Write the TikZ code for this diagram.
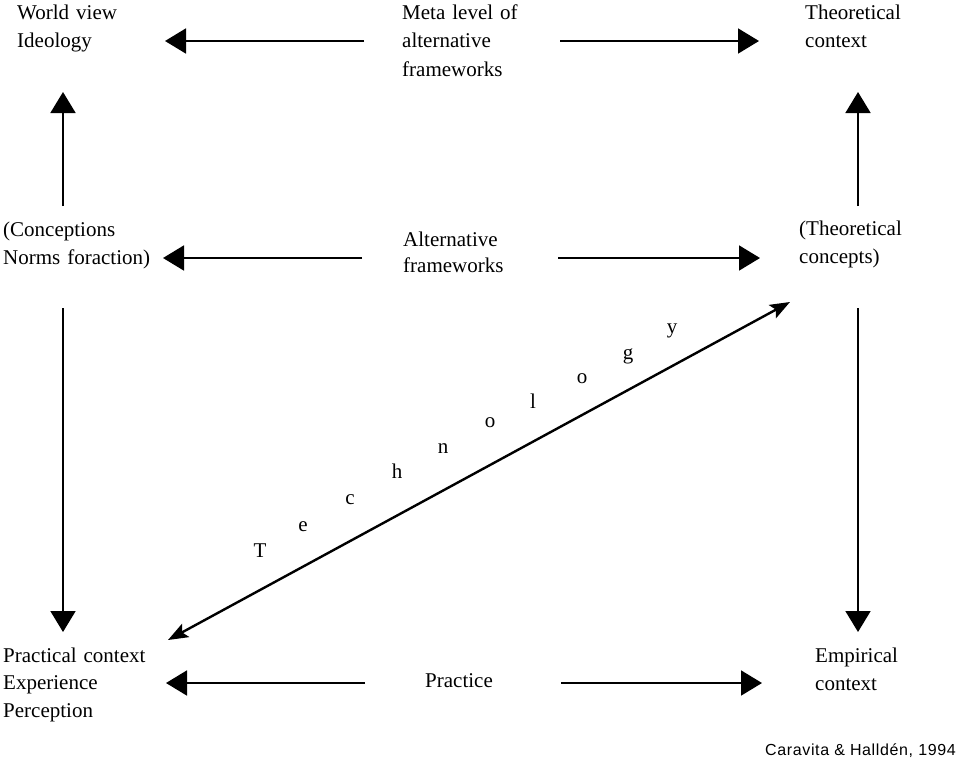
\documentclass[tikz,border=0pt]{standalone}
\usepackage{fontspec}
\setmainfont{Liberation Serif}
\newfontfamily\capfont[LetterSpace=4]{Liberation Sans}
\usetikzlibrary{arrows.meta}
\begin{document}
\begin{tikzpicture}[x=1pt,y=-1pt,
  lbl/.style={anchor=base west,inner sep=0pt,align=left,text width=220pt,
    font=\fontsize{21}{28.5}\selectfont},
  letter/.style={anchor=base,inner sep=0pt,font=\fontsize{21}{25}\selectfont},
  conn/.style={line width=1.8pt,-{Triangle[length=21pt,width=25pt]}},
  diag/.style={line width=2.4pt,{Stealth[length=20pt,width=15pt,inset=4pt]}-{Stealth[length=20pt,width=15pt,inset=4pt]}}]
\useasboundingbox (0,0) rectangle (960,766);
% text nodes
\node[lbl] (world) at (17,19) {World view\\Ideology};
\node[lbl] (meta) at (402,19) {Meta level of\\alternative\\frameworks};
\node[lbl] (theo) at (805,19) {Theoretical\\context};
\node[lbl] (conc) at (3,236) {(Conceptions\\Norms foraction)};
\node[lbl,font=\fontsize{21}{26}\selectfont] (alt) at (403,246) {Alternative\\frameworks};
\node[lbl] (tconc) at (799,235) {(Theoretical\\concepts)};
\node[lbl,font=\fontsize{21}{27.5}\selectfont] (prac) at (3,662) {Practical context\\Experience\\Perception};
\node[lbl] (practice) at (425,687) {Practice};
\node[lbl] (emp) at (815,662) {Empirical\\context};
\node[anchor=base east,inner sep=0pt,font=\capfont\fontsize{16}{19}\selectfont] (cite) at (956,755) {Caravita \& Halldén, 1994};
% Technology letters
\node[letter] (l1) at (260,557) {T};
\node[letter] (l2) at (303,531) {e};
\node[letter] (l3) at (350,504) {c};
\node[letter] (l4) at (397,478) {h};
\node[letter] (l5) at (443,453) {n};
\node[letter] (l6) at (490,427) {o};
\node[letter] (l7) at (533,408) {l};
\node[letter] (l8) at (582,383) {o};
\node[letter] (l9) at (628,359) {g};
\node[letter] (l10) at (672,333) {y};
% connector end points
\coordinate (a1s) at (364,41);  \coordinate (a1e) at (165,41);
\coordinate (a2s) at (560,41);  \coordinate (a2e) at (759,41);
\coordinate (a3s) at (362,258); \coordinate (a3e) at (163,258);
\coordinate (a4s) at (558,258); \coordinate (a4e) at (760,258);
\coordinate (a5s) at (365,683); \coordinate (a5e) at (166,683);
\coordinate (a6s) at (561,683); \coordinate (a6e) at (762,683);
\coordinate (v1s) at (63,206);  \coordinate (v1e) at (63,92);
\coordinate (v2s) at (858,206); \coordinate (v2e) at (858,92);
\coordinate (v3s) at (63,308);  \coordinate (v3e) at (63,632);
\coordinate (v4s) at (858,308); \coordinate (v4e) at (858,632);
\coordinate (d1) at (168,640);  \coordinate (d2) at (790,302);
% connectors
\draw[conn] (a1s) -- (a1e);
\draw[conn] (a2s) -- (a2e);
\draw[conn] (a3s) -- (a3e);
\draw[conn] (a4s) -- (a4e);
\draw[conn] (a5s) -- (a5e);
\draw[conn] (a6s) -- (a6e);
\draw[conn] (v1s) -- (v1e);
\draw[conn] (v2s) -- (v2e);
\draw[conn] (v3s) -- (v3e);
\draw[conn] (v4s) -- (v4e);
\draw[diag] (d1) -- (d2);
\end{tikzpicture}
\end{document}
